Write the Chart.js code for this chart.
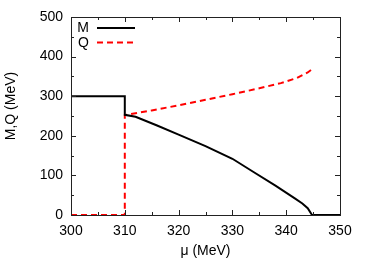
<!DOCTYPE html>
<html>
<head>
<meta charset="utf-8">
<script src="https://cdn.jsdelivr.net/npm/chart.js@4"></script>
<style>
  html, body { margin: 0; padding: 0; background: #fff; }
  canvas { display: block; }
</style>
</head>
<body>
<canvas id="chart" width="374" height="262"></canvas>
<script>
// M curve (black)
const muM  = [300, 310, 310, 312, 316, 320, 325, 330, 334, 338, 341.6, 343, 344, 344.8, 350];
const valM = [300, 300, 253, 248, 226, 203, 174, 142, 108, 74, 42, 29, 17, 0, 0];

// Q curve (red dashed)
const muQ  = [300, 310, 310, 315, 320, 325, 330, 335, 339, 342, 344, 345];
const valQ = [0, 0, 252, 264, 277, 291, 305, 320, 333, 346, 360, 370];

const xTicks = [300, 310, 320, 330, 340, 350];
const yTicks = [0, 100, 200, 300, 400, 500];

const FONT = "'Liberation Sans', Arial, sans-serif";

function toPoints(xs, ys) {
  return xs.map((x, i) => ({ x: x, y: ys[i] }));
}

// box, inward ticks (gnuplot style), legend and y title
const framePlugin = {
  id: 'frame',
  afterDraw(chart) {
    const ctx = chart.ctx;
    const a = chart.chartArea;
    const xs = chart.scales.x, ys = chart.scales.y;
    ctx.save();
    ctx.strokeStyle = '#222';
    ctx.lineWidth = 1;
    ctx.strokeRect(a.left + 0.5, a.top + 0.5, a.right - a.left, a.bottom - a.top);

    ctx.beginPath();
    for (let v = 300; v <= 350; v += 5) {
      const len = v % 10 === 0 ? 5 : 3;
      const px = Math.round(xs.getPixelForValue(v)) + 0.5;
      ctx.moveTo(px, a.bottom); ctx.lineTo(px, a.bottom - len);
      ctx.moveTo(px, a.top); ctx.lineTo(px, a.top + len);
    }
    for (let v = 0; v <= 500; v += 50) {
      const len = v % 100 === 0 ? 5 : 3;
      const py = Math.round(ys.getPixelForValue(v)) + 0.5;
      ctx.moveTo(a.left, py); ctx.lineTo(a.left + len, py);
      ctx.moveTo(a.right, py); ctx.lineTo(a.right - len, py);
    }
    ctx.stroke();

    // legend
    ctx.fillStyle = '#000';
    ctx.font = '14px ' + FONT;
    ctx.textAlign = 'right';
    ctx.textBaseline = 'middle';
    ctx.fillText('M', 89, 28);
    ctx.fillText('Q', 89, 43);
    ctx.lineWidth = 2;
    ctx.strokeStyle = '#000';
    ctx.beginPath(); ctx.moveTo(97, 28); ctx.lineTo(135, 28); ctx.stroke();
    ctx.strokeStyle = '#ff0000';
    ctx.setLineDash([6, 4]);
    ctx.beginPath(); ctx.moveTo(97, 42.5); ctx.lineTo(136, 42.5); ctx.stroke();
    ctx.setLineDash([]);

    // y axis title
    ctx.translate(11, 106);
    ctx.rotate(-Math.PI / 2);
    ctx.textAlign = 'center';
    ctx.fillStyle = '#000';
    ctx.fillText('M,Q (MeV)', 0, 0);
    ctx.restore();
  }
};

new Chart(document.getElementById('chart'), {
  type: 'line',
  data: {
    datasets: [{
      label: 'M',
      data: toPoints(muM, valM),
      borderColor: '#000',
      borderWidth: 2,
      pointRadius: 0,
      tension: 0,
      clip: false
    }, {
      label: 'Q',
      data: toPoints(muQ, valQ),
      borderColor: '#ff0000',
      borderWidth: 2,
      borderDash: [6, 4],
      pointRadius: 0,
      tension: 0,
      clip: false
    }]
  },
  options: {
    responsive: false,
    animation: false,
    layout: { padding: { top: 17, right: 34, left: 0, bottom: 0 } },
    plugins: {
      legend: { display: false },
      tooltip: { enabled: false }
    },
    scales: {
      x: {
        type: 'linear',
        min: 300, max: 350,
        afterBuildTicks: s => { s.ticks = xTicks.map(v => ({ value: v })); },
        afterFit: s => { s.height = 47; },
        grid: { display: false, drawTicks: false },
        border: { display: false },
        ticks: { color: '#000', padding: 8, font: { family: FONT, size: 14 } },
        title: {
          display: true, text: 'μ (MeV)', color: '#000',
          padding: { top: 0, bottom: 2 },
          font: { family: FONT, size: 14 }
        }
      },
      y: {
        min: 0, max: 500,
        afterBuildTicks: s => { s.ticks = yTicks.map(v => ({ value: v })); },
        afterFit: s => { s.width = 71; },
        grid: { display: false, drawTicks: false },
        border: { display: false },
        ticks: { color: '#000', padding: 8, font: { family: FONT, size: 14 } }
      }
    }
  },
  plugins: [framePlugin]
});
</script>
</body>
</html>
